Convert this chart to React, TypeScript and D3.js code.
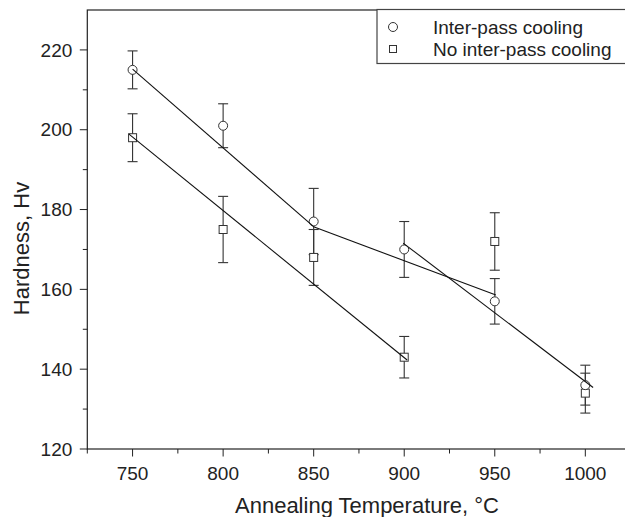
import React from "react";
import * as d3 from "d3";

const temps = [750, 800, 850, 900, 950, 1000];
const interPass = [215, 201, 177, 170, 157, 136];
const interPassErr = [4.75, 5.5, 8.3, 7, 5.7, 5];
const noInterPass = [198, 175, 168, 143, 172, 134];
const noInterPassErr = [6, 8.3, 7, 5.2, 7.2, 5];

// fitted line segments: [x1, y1, x2, y2]
const fitLines: [number, number, number, number][] = [
  [750, 215.2, 850.3, 175.6],
  [850.3, 175.6, 950.6, 158.6],
  [899.4, 171.6, 1004.3, 135.4],
  [748, 198.9, 901.6, 142.3],
];

const xMajor = [750, 800, 850, 900, 950, 1000];
const xMinor = [725, 775, 825, 875, 925, 975, 1025];
const yMajor = [120, 140, 160, 180, 200, 220];
const yMinor = [130, 150, 170, 190, 210];

const legendLabels = ["Inter-pass cooling", "No inter-pass cooling"];

const W = 625;
const H = 517;
const FONT = "'Liberation Sans', Arial, Helvetica, sans-serif";

export default function App() {
  const x = d3.scaleLinear().domain([725, 1025]).range([87.3, 630.6]);
  const y = d3.scaleLinear().domain([120, 230]).range([449, 10]);
  const ink = "#222";
  const cap = 5;

  const errBars = (vals: number[], errs: number[], key: string) =>
    temps.map((t, i) => {
      const cx = x(t);
      const y1 = y(vals[i] + errs[i]);
      const y2 = y(vals[i] - errs[i]);
      return (
        <g key={key + i} stroke="#333" strokeWidth={1.1}>
          <line x1={cx} x2={cx} y1={y1} y2={y2} />
          <line x1={cx - cap} x2={cx + cap} y1={y1} y2={y1} />
          <line x1={cx - cap} x2={cx + cap} y1={y2} y2={y2} />
        </g>
      );
    });

  return (
    <svg
      width={W}
      height={H}
      style={{ position: "absolute", left: 0, top: 0, background: "#fff" }}
      fontFamily={FONT}
    >
      <rect x={0} y={0} width={W} height={H} fill="#fff" />
      {/* frame */}
      <rect
        x={x(725)}
        y={y(230)}
        width={x(1025) - x(725)}
        height={y(120) - y(230)}
        fill="none"
        stroke={ink}
        strokeWidth={1.2}
      />
      {/* y ticks */}
      {yMajor.map((v) => (
        <g key={"ym" + v}>
          <line x1={x(725) - 7.5} x2={x(725)} y1={y(v)} y2={y(v)} stroke={ink} strokeWidth={1} />
          <text x={x(725) - 15} y={y(v)} dy="0.35em" textAnchor="end" fontSize={19} fill={ink}>
            {v}
          </text>
        </g>
      ))}
      {yMinor.map((v) => (
        <line key={"yn" + v} x1={x(725) - 4.5} x2={x(725)} y1={y(v)} y2={y(v)} stroke={ink} strokeWidth={1} />
      ))}
      {/* x ticks */}
      {xMajor.map((v) => (
        <g key={"xm" + v}>
          <line x1={x(v)} x2={x(v)} y1={y(120)} y2={y(120) + 7.5} stroke={ink} strokeWidth={1} />
          <text x={x(v)} y={y(120) + 24} dy="0.35em" textAnchor="middle" fontSize={19} fill={ink}>
            {v}
          </text>
        </g>
      ))}
      {xMinor.map((v) => (
        <line key={"xn" + v} x1={x(v)} x2={x(v)} y1={y(120)} y2={y(120) + 4.5} stroke={ink} strokeWidth={1} />
      ))}
      {/* axis titles */}
      <text x={367} y={513} textAnchor="middle" fontSize={22} fill={ink}>
        Annealing Temperature, °C
      </text>
      <text
        transform={`translate(28.5, 248.5) rotate(-90)`}
        textAnchor="middle"
        fontSize={22}
        fill={ink}
      >
        Hardness, Hv
      </text>
      {/* error bars */}
      {errBars(interPass, interPassErr, "ie")}
      {errBars(noInterPass, noInterPassErr, "ne")}
      {/* markers */}
      {temps.map((t, i) => (
        <rect
          key={"sq" + i}
          x={x(t) - 4}
          y={y(noInterPass[i]) - 4}
          width={8}
          height={8}
          fill="#fff"
          stroke="#333"
          strokeWidth={1}
        />
      ))}
      {temps.map((t, i) => (
        <circle key={"ci" + i} cx={x(t)} cy={y(interPass[i])} r={4.5} fill="#fff" stroke="#333" strokeWidth={1} />
      ))}
      {/* fit lines */}
      {fitLines.map((s, i) => (
        <line
          key={"fl" + i}
          x1={x(s[0])}
          y1={y(s[1])}
          x2={x(s[2])}
          y2={y(s[3])}
          stroke="#111"
          strokeWidth={1.1}
        />
      ))}
      {/* legend */}
      <rect x={377} y={9.5} width={260} height={54} fill="#fff" stroke="#444" strokeWidth={1.2} />
      <circle cx={393} cy={27} r={4.5} fill="#fff" stroke="#333" strokeWidth={1} />
      <rect x={389.5} y={45.5} width={7} height={7} fill="#fff" stroke="#333" strokeWidth={1} />
      {legendLabels.map((l, i) => (
        <text key={l} x={433} y={27 + i * 22.5} dy="0.35em" fontSize={19} fill={ink}>
          {l}
        </text>
      ))}
    </svg>
  );
}
